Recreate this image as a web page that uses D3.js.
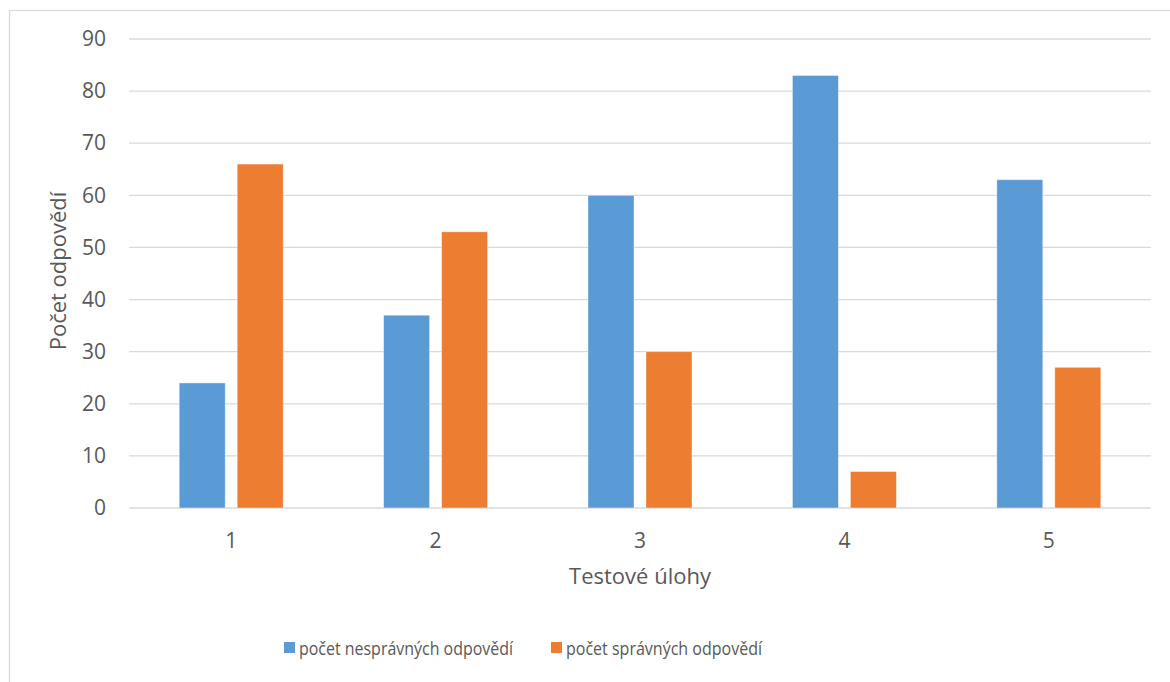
<!DOCTYPE html>
<html><head><meta charset="utf-8">
<script src="https://cdn.jsdelivr.net/npm/d3@7"></script>
<style>body{margin:0;background:#fff}svg{display:block}text{font-family:"Open Sans",sans-serif;fill:#595959}</style>
</head><body>
<svg id="c" width="1170" height="682"></svg>
<script>
const categories = ["1","2","3","4","5"];
const seriesNames = ["počet nesprávných odpovědí","počet správných odpovědí"];
const wrong = [24,37,60,83,63];
const correct = [66,53,30,7,27];
const yTicks = [0,10,20,30,40,50,60,70,80,90];
const colors = ["#5B9BD5","#ED7D31"];
const xTitle = "Testové úlohy";
const yTitle = "Počet odpovědí";

const svg = d3.select("#c");
svg.append("rect").attr("x",9.5).attr("y",10.5).attr("width",1170).attr("height",680)
  .attr("fill","none").attr("stroke","#d9d9d9").attr("stroke-width",1.3);

const L=129,R=1151,T=39,B=508;
const x0 = d3.scaleBand().domain(categories).range([L,R]).padding(0);
const bw = x0.bandwidth();
const x1 = d3.scaleBand().domain([0,1]).range([bw/2-52,bw/2+52]).paddingInner(12/58);
const y = d3.scaleLinear().domain([0,90]).range([B,T]);

// gridlines
svg.append("g").selectAll("line").data(yTicks).join("line")
  .attr("x1",L).attr("x2",R).attr("y1",d=>y(d)).attr("y2",d=>y(d))
  .attr("stroke","#d9d9d9").attr("stroke-width",1.3);

// y axis labels
const yAxis = d3.axisLeft(y).tickValues(yTicks).tickSize(0).tickPadding(0);
const ga = svg.append("g").attr("transform",`translate(106,0)`).call(yAxis);
ga.select(".domain").remove();
ga.selectAll("text").style("font-size","21px").attr("fill","#595959").style("font-family","Open Sans");

// x axis labels
const xAxis = d3.axisBottom(x0).tickSize(0).tickPadding(0);
const gx = svg.append("g").attr("transform",`translate(0,${B+25})`).call(xAxis);
gx.select(".domain").remove();
gx.selectAll("text").style("font-size","21px").attr("fill","#595959").style("font-family","Open Sans");

const data = categories.map((c,i)=>({c, v:[wrong[i],correct[i]]}));
const groups = svg.append("g").selectAll("g").data(data).join("g")
  .attr("transform",d=>`translate(${x0(d.c)},0)`);
groups.selectAll("rect").data(d=>d.v.map((v,k)=>({v,k}))).join("rect")
  .attr("x",d=>x1(d.k)).attr("width",x1.bandwidth())
  .attr("y",d=>y(d.v)).attr("height",d=>B-y(d.v))
  .attr("fill",d=>colors[d.k]).attr("stroke","#fff").attr("stroke-opacity",0.5).attr("stroke-width",0.8);

// titles
svg.append("text").attr("x",(L+R)/2).attr("y",584).attr("text-anchor","middle")
  .style("font-size","22px").text(xTitle);
svg.append("text").attr("transform",`translate(66,271) rotate(-90)`).attr("text-anchor","middle")
  .style("font-size","22px").text(yTitle);

// legend
const legX = [284,551];
const legW = [214,196];
const lg = svg.append("g").selectAll("g").data(seriesNames).join("g")
  .attr("transform",(d,i)=>`translate(${legX[i]},642)`);
lg.append("rect").attr("width",11).attr("height",11).attr("fill",(d,i)=>colors[i]);
lg.append("text").attr("x",15).attr("y",13).style("font-size","19px")
  .attr("textLength",(d,i)=>legW[i]).attr("lengthAdjust","spacingAndGlyphs").text(d=>d);
</script>
</body></html>
